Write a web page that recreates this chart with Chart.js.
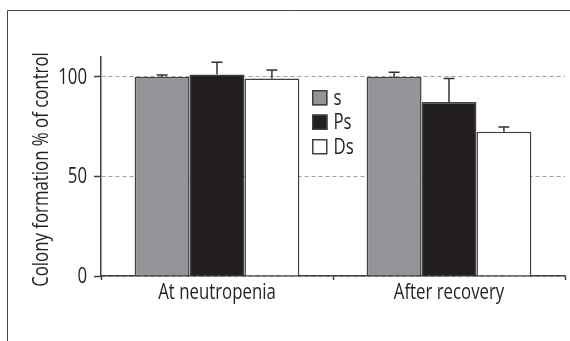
<!DOCTYPE html>
<html>
<head>
<meta charset="utf-8">
<script src="https://cdn.jsdelivr.net/npm/chart.js@4"></script>
<style>
  body { margin: 0; background: #fff; }
  canvas { display: block; }
</style>
</head>
<body>
<canvas id="myChart" width="570" height="341"></canvas>
<script>
// data
const categories = ['At neutropenia', 'After recovery'];
const seriesNames = ['s', 'Ps', 'Ds'];
const sValues = [100, 100];
const psValues = [101.2, 87.4];
const dsValues = [99.2, 72.4];
const sErr = [1.0, 2.4];
const psErr = [6.2, 11.8];
const dsErr = [4.3, 2.4];
const yTicks = [0, 50, 100];
const yTitle = 'Colony formation % of control';

const FONT = '21px "Open Sans", "Noto Sans", sans-serif';
const SQUEEZE = 0.8;   // the original uses a condensed face
const INK = '#231f20';
const EDGE = '#404040';

// draw text narrowed horizontally (along the text direction)
function narrowText(ctx, text, x, y, align, baseline, vertical) {
    ctx.save();
    ctx.translate(x, y);
    if (vertical) ctx.rotate(-Math.PI / 2);
    ctx.scale(SQUEEZE, 1);
    ctx.font = FONT;
    ctx.fillStyle = INK;
    ctx.textAlign = align;
    ctx.textBaseline = baseline;
    ctx.fillText(text, 0, 0);
    ctx.restore();
}

// frame round the figure (only left and top edges visible)
const framePlugin = {
    id: 'frame',
    beforeDraw(chart) {
        const ctx = chart.ctx;
        ctx.save();
        ctx.strokeStyle = '#444';
        ctx.lineWidth = 1;
        ctx.beginPath();
        ctx.moveTo(7.5, 341);
        ctx.lineTo(7.5, 10.5);
        ctx.lineTo(570, 10.5);
        ctx.stroke();
        ctx.restore();
    }
};

// upper error bars only
const errorBarPlugin = {
    id: 'errorBars',
    afterDatasetsDraw(chart) {
        const ctx = chart.ctx;
        const y = chart.scales.y;
        ctx.save();
        ctx.strokeStyle = '#333';
        ctx.lineWidth = 1.5;
        chart.data.datasets.forEach((ds, i) => {
            const meta = chart.getDatasetMeta(i);
            meta.data.forEach((bar, j) => {
                const top = y.getPixelForValue(ds.data[j] + ds.errors[j]);
                ctx.beginPath();
                ctx.moveTo(bar.x, bar.y);
                ctx.lineTo(bar.x, top);
                ctx.moveTo(bar.x - 5.5, top);
                ctx.lineTo(bar.x + 5.5, top);
                ctx.stroke();
            });
        });
        ctx.restore();
    }
};

// axis labels and title in condensed lettering
const labelsPlugin = {
    id: 'narrowLabels',
    afterDraw(chart) {
        const ctx = chart.ctx;
        const { x, y } = chart.scales;
        yTicks.forEach(v => {
            narrowText(ctx, String(v), 87, y.getPixelForValue(v) + 1, 'right', 'middle', false);
        });
        categories.forEach((c, i) => {
            narrowText(ctx, c, x.getPixelForValue(i), 299, 'center', 'alphabetic', false);
        });
        const area = chart.chartArea;
        narrowText(ctx, yTitle, 48, (area.top + area.bottom) / 2 + 3, 'center', 'alphabetic', true);
    }
};

// legend drawn inside the plot, between the two groups
const legendPlugin = {
    id: 'innerLegend',
    afterDraw(chart) {
        const ctx = chart.ctx;
        const o = chart.options.plugins.innerLegend;
        chart.data.datasets.forEach((ds, i) => {
            const top = o.top + i * o.step;
            ctx.save();
            ctx.fillStyle = ds.backgroundColor;
            ctx.fillRect(o.left, top, o.box, o.box);
            ctx.strokeStyle = EDGE;
            ctx.lineWidth = 1.5;
            ctx.strokeRect(o.left + 0.75, top + 0.75, o.box - 1.5, o.box - 1.5);
            ctx.restore();
            narrowText(ctx, ds.label, o.left + o.box + 6, top + o.box / 2 + 1, 'left', 'middle', false);
        });
    }
};

const ctx = document.getElementById('myChart');
new Chart(ctx, {
    type: 'bar',
    data: {
        labels: categories,
        datasets: [
            { label: seriesNames[0], data: sValues, errors: sErr, backgroundColor: '#939598' },
            { label: seriesNames[1], data: psValues, errors: psErr, backgroundColor: INK },
            { label: seriesNames[2], data: dsValues, errors: dsErr, backgroundColor: '#ffffff' }
        ].map(d => Object.assign(d, {
            borderColor: EDGE,
            borderWidth: 1.5,
            borderSkipped: 'bottom',
            barPercentage: 1.0,
            categoryPercentage: 0.71
        }))
    },
    options: {
        responsive: false,
        animation: false,
        layout: { padding: { top: 57, right: 5, left: 0, bottom: 0 } },
        plugins: {
            legend: { display: false },
            tooltip: { enabled: false },
            innerLegend: { left: 312, top: 90, step: 24.5, box: 15.5 }
        },
        scales: {
            x: {
                afterFit: (scale) => { scale.height = 65; },
                grid: {
                    drawOnChartArea: false,
                    offset: true,
                    tickLength: 4,
                    tickColor: EDGE,
                    tickWidth: 1.5
                },
                border: { color: EDGE, width: 1.5 },
                ticks: { display: false }
            },
            y: {
                min: 0,
                max: 110,
                afterFit: (scale) => { scale.width = 101; },
                afterBuildTicks: (axis) => { axis.ticks = yTicks.map(v => ({ value: v })); },
                grid: {
                    color: '#a0a0a0',
                    lineWidth: 1,
                    tickLength: 7,
                    tickColor: EDGE,
                    tickWidth: 1.5,
                    tickBorderDash: []
                },
                border: { color: EDGE, width: 1.5, dash: [4, 3] },
                ticks: { display: false }
            }
        }
    },
    plugins: [framePlugin, errorBarPlugin, labelsPlugin, legendPlugin]
});
</script>
</body>
</html>
